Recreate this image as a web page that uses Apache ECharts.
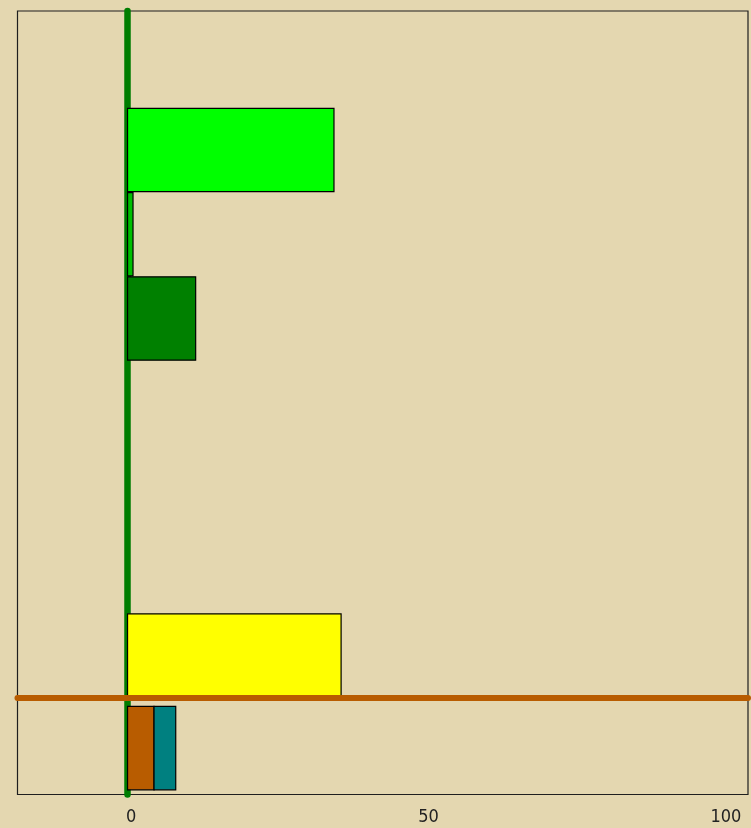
<!DOCTYPE html>
<html>
<head>
<meta charset="utf-8">
<script src="https://cdn.jsdelivr.net/npm/echarts@6/dist/echarts.min.js"></script>
<style>
html,body{margin:0;padding:0;background:#e4d7b0;}
#chart{width:751px;height:828px;}
</style>
</head>
<body>
<div id="chart"></div>
<script>
// Data
const barRows   = [1.5, 2.5, 3.5, 7.5, 8.6, 8.6];      // row position of each bar
const barStarts = [0, 0, 0, 0, 0, 4.45];               // bar start value
const barValues = [34.7, 0.92, 11.45, 35.9, 4.45, 3.65]; // bar length
const xTicks = [0, 50, 100];
const vLineValue = 0;   // vertical reference line
const hLineRow = 8;     // horizontal reference line

// Styles
const barColors = ['#00ff00', '#00c000', '#008000', '#ffff00', '#b85c00', '#008080'];
const BAR_H = 0.99;

const barData = barValues.map((v, i) => [barStarts[i], barStarts[i] + v, barRows[i]]);

const chart = echarts.init(document.getElementById('chart'));
chart.setOption({
  backgroundColor: '#e4d7b0',
  animation: false,
  grid: {left: 17.5, top: 11, right: 3, bottom: 33.5, show: true, borderColor: '#1e1e1e', borderWidth: 1.2, backgroundColor: 'transparent'},
  xAxis: {
    type: 'value', min: -18.5, max: 104.3,
    axisLine: {show: false}, axisTick: {show: false}, splitLine: {show: false},
    axisLabel: {
      customValues: xTicks,
      color: '#222', fontSize: 18, margin: 14, padding: [0, 0, 0, 7],
      fontFamily: "'Liberation Sans Narrow', 'DejaVu Sans Condensed', 'Liberation Sans', sans-serif"
    }
  },
  yAxis: {type: 'value', inverse: true, min: -0.15, max: 9.15, show: false},
  series: [
    {
      type: 'custom', z: 1, data: [],
      renderItem: () => null,
      markLine: {
        z: 1, silent: true, symbol: 'none', label: {show: false},
        lineStyle: {color: '#007d00', width: 6.5, type: 'solid', cap: 'round'},
        data: [{xAxis: vLineValue}]
      }
    },
    {
      type: 'custom', z: 8,
      data: barData,
      renderItem: function (params, api) {
        const p0 = api.coord([api.value(0), api.value(2)]);
        const p1 = api.coord([api.value(1), api.value(2)]);
        const h = api.size([0, BAR_H])[1];
        return {
          type: 'rect', z2: 10,
          shape: {x: p0[0], y: p0[1] - h / 2, width: p1[0] - p0[0], height: h},
          style: {fill: barColors[params.dataIndex], stroke: '#000', lineWidth: 1.2}
        };
      }
    },
    {
      type: 'custom', z: 9, data: [],
      renderItem: () => null,
      markLine: {
        z: 9, silent: true, symbol: 'none', label: {show: false},
        lineStyle: {color: '#b85c00', width: 6, type: 'solid', cap: 'round'},
        data: [{yAxis: hLineRow}]
      }
    }
  ]
});
</script>
</body>
</html>
